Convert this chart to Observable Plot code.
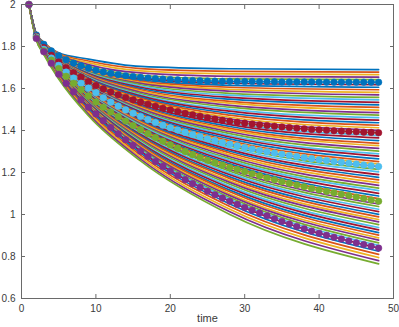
<!DOCTYPE html>
<html>
<head>
<meta charset="utf-8">
<script src="https://cdn.jsdelivr.net/npm/d3@7"></script>
<script src="https://cdn.jsdelivr.net/npm/@observablehq/plot@0.6"></script>
<style>
  html, body { margin: 0; padding: 0; background: #fff; }
</style>
</head>
<body>
<div id="chart"></div>
<script>
// ---- data ----
const xTicks = [0, 10, 20, 30, 40, 50];
const yTicks = [0.6, 0.8, 1, 1.2, 1.4, 1.6, 1.8, 2];
const xLabel = "time";

const times = [1,2,3,4,5,6,7,8,9,10,11,12,13,14,15,16,17,18,19,20,21,22,23,24,
               25,26,27,28,29,30,31,32,33,34,35,36,37,38,39,40,41,42,43,44,45,46,47,48];

const blueVals = [2,1.855,1.81,1.779,1.756,1.737,1.721,1.708,1.697,1.687,1.679,1.672,1.666,1.661,1.657,1.653,
  1.65,1.647,1.645,1.643,1.641,1.64,1.638,1.637,1.636,1.635,1.634,1.634,1.633,1.633,1.633,1.632,
  1.632,1.632,1.631,1.631,1.631,1.631,1.631,1.63,1.63,1.63,1.63,1.63,1.63,1.63,1.63,1.63];
const redVals = [2,1.848,1.795,1.758,1.726,1.698,1.675,1.654,1.633,1.614,1.598,1.583,1.57,1.557,1.546,1.535,
  1.525,1.515,1.506,1.498,1.49,1.482,1.475,1.468,1.461,1.455,1.449,1.444,1.439,1.435,1.431,1.427,
  1.424,1.42,1.417,1.414,1.411,1.408,1.405,1.403,1.401,1.399,1.397,1.395,1.394,1.392,1.391,1.389];
const lightBlueVals = [2,1.845,1.787,1.745,1.71,1.678,1.65,1.625,1.602,1.58,1.556,1.535,1.516,1.498,1.482,1.467,
  1.452,1.438,1.425,1.413,1.402,1.391,1.381,1.371,1.361,1.352,1.343,1.335,1.327,1.319,1.312,1.305,
  1.299,1.293,1.287,1.281,1.276,1.271,1.266,1.261,1.257,1.252,1.248,1.244,1.24,1.236,1.232,1.228];
const greenVals = [2,1.842,1.78,1.735,1.695,1.658,1.625,1.594,1.564,1.536,1.511,1.488,1.466,1.445,1.424,1.404,
  1.385,1.367,1.349,1.332,1.316,1.3,1.285,1.271,1.258,1.246,1.235,1.224,1.214,1.204,1.194,1.184,
  1.174,1.165,1.156,1.148,1.14,1.132,1.124,1.117,1.11,1.103,1.096,1.09,1.083,1.076,1.069,1.063];
const purpleVals = [2,1.838,1.775,1.72,1.668,1.624,1.584,1.546,1.511,1.479,1.447,1.414,1.384,1.356,1.329,1.301,
  1.276,1.252,1.229,1.207,1.186,1.166,1.147,1.129,1.111,1.094,1.078,1.063,1.048,1.033,1.02,1.007,
  0.994,0.98,0.967,0.955,0.943,0.932,0.921,0.911,0.901,0.892,0.883,0.874,0.865,0.857,0.849,0.84];

// background fan of curves, values read at these times
const knotTimes = [1, 2, 3, 5, 9, 16, 28, 48];
const fanLines = [
  [2,1.86,1.82,1.77,1.74,1.705,1.694,1.69],
  [2,1.859,1.818,1.767,1.731,1.695,1.682,1.678],
  [2,1.858,1.816,1.764,1.723,1.684,1.67,1.666],
  [2,1.857,1.814,1.762,1.714,1.674,1.658,1.654],
  [2,1.856,1.812,1.759,1.706,1.663,1.646,1.642],
  [2,1.855,1.81,1.756,1.697,1.653,1.634,1.63],
  [2,1.855,1.809,1.755,1.694,1.647,1.625,1.618],
  [2,1.854,1.809,1.753,1.691,1.641,1.615,1.606],
  [2,1.854,1.808,1.752,1.687,1.635,1.606,1.594],
  [2,1.854,1.807,1.75,1.684,1.629,1.596,1.582],
  [2,1.853,1.806,1.749,1.681,1.624,1.587,1.57],
  [2,1.853,1.806,1.747,1.678,1.618,1.577,1.558],
  [2,1.853,1.805,1.746,1.675,1.612,1.568,1.546],
  [2,1.852,1.804,1.744,1.671,1.606,1.558,1.534],
  [2,1.852,1.803,1.743,1.668,1.6,1.549,1.522],
  [2,1.852,1.803,1.741,1.665,1.594,1.539,1.51],
  [2,1.851,1.802,1.74,1.662,1.588,1.53,1.497],
  [2,1.851,1.801,1.738,1.659,1.582,1.52,1.485],
  [2,1.85,1.8,1.737,1.655,1.576,1.511,1.473],
  [2,1.85,1.8,1.735,1.652,1.57,1.501,1.461],
  [2,1.85,1.799,1.734,1.649,1.565,1.492,1.449],
  [2,1.849,1.798,1.732,1.646,1.559,1.482,1.437],
  [2,1.849,1.797,1.731,1.643,1.553,1.473,1.425],
  [2,1.849,1.797,1.729,1.639,1.547,1.463,1.413],
  [2,1.848,1.796,1.728,1.636,1.541,1.454,1.401],
  [2,1.848,1.795,1.726,1.633,1.535,1.444,1.389],
  [2,1.848,1.794,1.725,1.631,1.53,1.435,1.376],
  [2,1.848,1.794,1.724,1.628,1.525,1.428,1.365],
  [2,1.847,1.793,1.722,1.626,1.519,1.419,1.352],
  [2,1.847,1.793,1.721,1.623,1.514,1.41,1.339],
  [2,1.847,1.792,1.72,1.621,1.509,1.403,1.328],
  [2,1.847,1.791,1.719,1.619,1.504,1.394,1.315],
  [2,1.846,1.791,1.717,1.616,1.498,1.385,1.302],
  [2,1.846,1.79,1.716,1.614,1.493,1.376,1.289],
  [2,1.846,1.789,1.715,1.612,1.488,1.369,1.278],
  [2,1.846,1.789,1.714,1.609,1.483,1.36,1.265],
  [2,1.845,1.788,1.712,1.607,1.477,1.351,1.252],
  [2,1.845,1.788,1.711,1.604,1.472,1.344,1.241],
  [2,1.845,1.787,1.71,1.602,1.467,1.335,1.228],
  [2,1.845,1.786,1.709,1.599,1.462,1.326,1.215],
  [2,1.845,1.786,1.708,1.596,1.458,1.318,1.203],
  [2,1.844,1.785,1.707,1.593,1.453,1.309,1.19],
  [2,1.844,1.785,1.705,1.59,1.447,1.301,1.177],
  [2,1.844,1.784,1.704,1.588,1.443,1.293,1.165],
  [2,1.844,1.784,1.703,1.585,1.438,1.284,1.152],
  [2,1.843,1.783,1.702,1.581,1.433,1.275,1.139],
  [2,1.843,1.783,1.701,1.578,1.428,1.266,1.126],
  [2,1.843,1.782,1.7,1.576,1.424,1.258,1.114],
  [2,1.843,1.782,1.698,1.573,1.418,1.25,1.101],
  [2,1.842,1.781,1.697,1.57,1.413,1.241,1.088],
  [2,1.842,1.781,1.696,1.567,1.409,1.233,1.076],
  [2,1.842,1.78,1.695,1.564,1.404,1.224,1.063],
  [2,1.842,1.78,1.693,1.561,1.398,1.214,1.05],
  [2,1.842,1.779,1.692,1.558,1.393,1.206,1.038],
  [2,1.841,1.779,1.69,1.555,1.386,1.197,1.025],
  [2,1.841,1.779,1.689,1.552,1.381,1.189,1.014],
  [2,1.841,1.779,1.687,1.549,1.375,1.179,1.001],
  [2,1.841,1.778,1.686,1.547,1.37,1.171,0.989],
  [2,1.84,1.778,1.684,1.543,1.364,1.161,0.976],
  [2,1.84,1.778,1.683,1.541,1.359,1.153,0.965],
  [2,1.84,1.778,1.682,1.538,1.353,1.144,0.952],
  [2,1.84,1.777,1.68,1.534,1.346,1.134,0.938],
  [2,1.84,1.777,1.679,1.532,1.341,1.126,0.927],
  [2,1.839,1.777,1.677,1.528,1.335,1.116,0.914],
  [2,1.839,1.776,1.676,1.526,1.33,1.108,0.902],
  [2,1.839,1.776,1.674,1.523,1.324,1.098,0.889],
  [2,1.839,1.776,1.673,1.52,1.319,1.09,0.878],
  [2,1.838,1.776,1.671,1.517,1.312,1.081,0.865],
  [2,1.838,1.775,1.67,1.514,1.307,1.073,0.853],
  [2,1.838,1.775,1.668,1.511,1.301,1.063,0.84],
  [2,1.836,1.772,1.663,1.503,1.292,1.05,0.825],
  [2,1.835,1.77,1.659,1.495,1.283,1.038,0.81],
  [2,1.833,1.767,1.654,1.486,1.273,1.025,0.795],
  [2,1.832,1.765,1.65,1.478,1.264,1.013,0.78],
  [2,1.83,1.762,1.645,1.47,1.255,1.0,0.765]
];

// ---- styles ----
const fanPalette = ["#0072BD","#D95319","#EDB120","#7E2F8E","#77AC30","#4DBEEE","#A2142F"];
const markerSeries = [
  {vals: blueVals, color: "#0072BD"},
  {vals: redVals, color: "#A2142F"},
  {vals: lightBlueVals, color: "#4DBEEE"},
  {vals: greenVals, color: "#77AC30"},
  {vals: purpleVals, color: "#7E2F8E"}
];

const fanRows = fanLines.flatMap((vals, i) =>
  vals.map((v, j) => ({t: knotTimes[j], v, line: i, color: fanPalette[i % fanPalette.length]})));

const seriesMarks = markerSeries.flatMap(s => {
  const rows = s.vals.map((v, i) => ({t: times[i], v}));
  return [
    Plot.line(rows, {x: "t", y: "v", stroke: s.color, strokeWidth: 1, strokeDasharray: "1,2"}),
    Plot.dot(rows, {x: "t", y: "v", fill: s.color, stroke: s.color, strokeWidth: 0.5, r: 3.3})
  ];
});

const axisColor = "#6a6a6a";
const blank = () => "";

const chart = Plot.plot({
  width: 399,
  height: 327,
  marginLeft: 21,
  marginRight: 6,
  marginTop: 4,
  marginBottom: 29,
  style: {fontFamily: "'Liberation Sans', Arial, sans-serif", fontSize: "10px", color: "#3a3a3a", background: "#fff"},
  x: {domain: [0, 50]},
  y: {domain: [0.6, 2]},
  color: {type: "identity"},
  marks: [
    Plot.line(fanRows, {x: "t", y: "v", z: "line", stroke: "color", strokeWidth: 1.7, curve: "monotone-x"}),
    ...seriesMarks,
    Plot.frame({stroke: axisColor, strokeWidth: 1}),
    // labels
    Plot.axisX({ticks: xTicks, anchor: "bottom", tickSize: 0, tickPadding: 6, label: null, tickFormat: d => String(d)}),
    Plot.axisY({ticks: yTicks, anchor: "left", tickSize: 0, tickPadding: 6, label: null, tickFormat: d => String(d)}),
    // inward ticks on all four sides
    Plot.axisX({ticks: xTicks, anchor: "bottom", tickSize: 4, dy: -4, stroke: axisColor, tickFormat: blank, label: null}),
    Plot.axisX({ticks: xTicks, anchor: "top", tickSize: 4, dy: 4, stroke: axisColor, tickFormat: blank, label: null}),
    Plot.axisY({ticks: yTicks, anchor: "left", tickSize: 4, dx: 4, stroke: axisColor, tickFormat: blank, label: null}),
    Plot.axisY({ticks: yTicks, anchor: "right", tickSize: 4, dx: -4, stroke: axisColor, tickFormat: blank, label: null}),
    Plot.text([xLabel], {frameAnchor: "bottom", dy: 23, fontSize: 11, fill: "#3a3a3a", text: d => d})
  ]
});

document.getElementById("chart").appendChild(chart);
</script>
</body>
</html>
